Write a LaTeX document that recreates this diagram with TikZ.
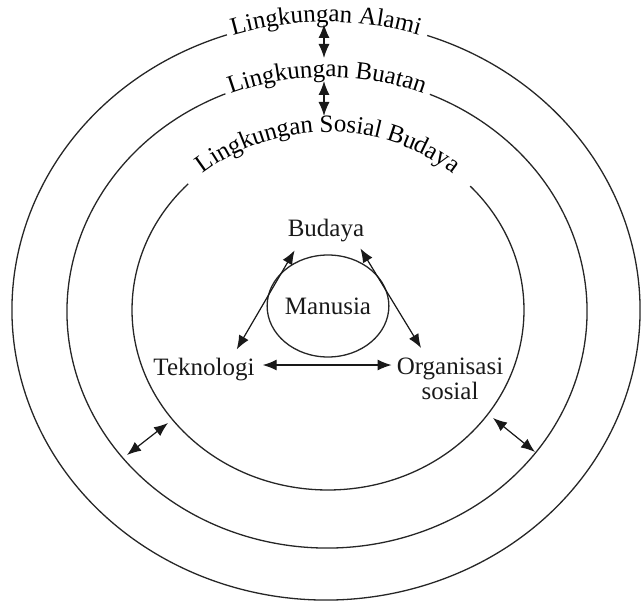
\documentclass[tikz,border=0pt]{standalone}
\usepackage{fontspec}
\setmainfont{Liberation Serif}
\usetikzlibrary{decorations.text,arrows.meta,calc,shapes.geometric}
\begin{document}
\begin{tikzpicture}[x=1pt,y=1pt,
  ring/.style={line width=1.3pt, draw=black!85},
  dbl/.style={{Latex[length=14pt,width=11pt]}-{Latex[length=14pt,width=11pt]}, line width=1.2pt, draw=black!90, fill=black},
  lbl/.style={font=\fontsize{25}{25}\selectfont, inner sep=0pt, text=black!90}]
\fontsize{25}{25}\selectfont
\useasboundingbox (0,0) rectangle (642,603);
% centres of the three rings
\coordinate (oc) at (326,293);
\coordinate (mc) at (327,291.5);
\coordinate (ic) at (328,293);
% outer ring
\draw[ring] ($(oc)+(108.4:314pt and 290pt)$) arc[start angle=108.4, end angle=431.2, x radius=314pt, y radius=290pt];
\path[decorate, decoration={text along path, text align=center, raise=-2pt,
  text={|\fontsize{25}{25}\selectfont|Lingkungan Alami}}]
  ($(oc)+(120:314pt and 290pt)$) arc[start angle=120, end angle=60, x radius=314pt, y radius=290pt];
% middle ring
\draw[ring] ($(mc)+(113:260pt and 236.5pt)$) arc[start angle=113, end angle=426.7, x radius=260pt, y radius=236.5pt];
\path[decorate, decoration={text along path, text align=center, raise=-2pt,
  text={|\fontsize{25}{25}\selectfont|Lingkungan Buatan}}]
  ($(mc)+(125:260pt and 236.5pt)$) arc[start angle=125, end angle=55, x radius=260pt, y radius=236.5pt];
% inner ring
\draw[ring] ($(ic)+(135.5:196pt and 180pt)$) arc[start angle=135.5, end angle=403.5, x radius=196pt, y radius=180pt];
\path[decorate, decoration={text along path, text align=center, raise=-2pt,
  text={|\fontsize{25}{25}\selectfont|Lingkungan Sosial Budaya}}]
  ($(ic)+(150:196pt and 180pt)$) arc[start angle=150, end angle=30, x radius=196pt, y radius=180pt];
% arrows between rings
\coordinate (a1) at (324,579);
\coordinate (a2) at (324,545);
\coordinate (b1) at (324,522);
\coordinate (b2) at (324,487);
\coordinate (l1) at (127,148);
\coordinate (l2) at (168,180);
\coordinate (r1) at (493,185);
\coordinate (r2) at (535,151);
\draw[dbl] (a1) -- (a2);
\draw[dbl] (b1) -- (b2);
\draw[dbl] (l1) -- (l2);
\draw[dbl] (r1) -- (r2);
% centre
\node[lbl, anchor=base] (budaya) at (326,366) {Budaya};
\node[lbl, ellipse, draw=black!85, line width=1.3pt, minimum width=108pt, minimum height=102pt] (manusia) at (328,297) {Manusia};
\node[lbl, anchor=base] (tek) at (204,228) {Teknologi};
\node[lbl, anchor=north, align=center] (org) at (450,245) {Organisasi\\sosial};
\draw[dbl] ($(budaya.south west)+(7,-7.8)$) -- ($(tek.north east)+(-18,8)$);
\draw[dbl] ($(budaya.south east)+(-4,-5.8)$) -- ($(org.north west)+(24.5,10)$);
\draw[dbl] ([xshift=8pt,yshift=4pt]tek.east) -- ([xshift=-5pt,yshift=4pt]tek.east -| org.west);
\end{tikzpicture}
\end{document}
